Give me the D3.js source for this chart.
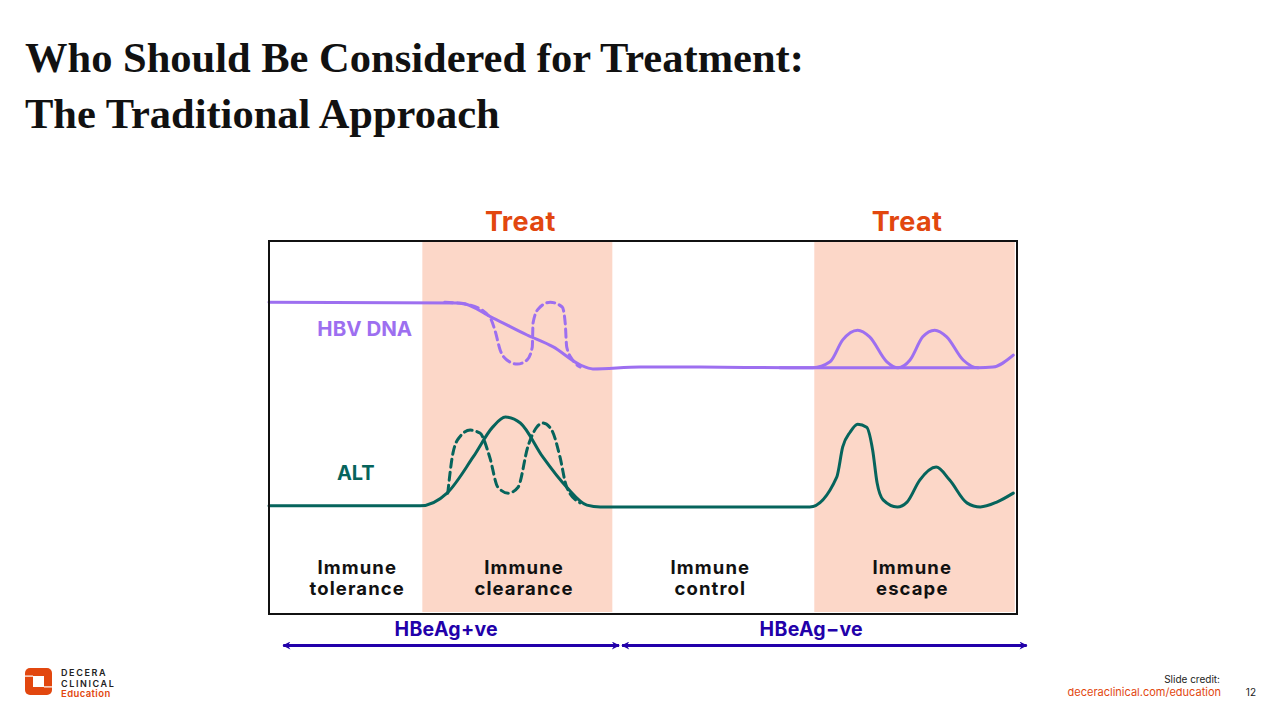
<!DOCTYPE html>
<html>
<head>
<meta charset="utf-8">
<script src="https://cdn.jsdelivr.net/npm/d3@7"></script>
<style>
  body { margin: 0; background: #fff; }
  svg { display: block; }
</style>
</head>
<body>
<div id="chart"></div>
<script>
// timeline runs 0..100 left to right, level runs 0..100 bottom to top
const phaseNames = [['Immune', 'tolerance'], ['Immune', 'clearance'], ['Immune', 'control'], ['Immune', 'escape']];
const phaseStart = [0, 20.5, 45.9, 72.9];
const phaseEnd = [20.5, 45.9, 72.9, 99.7];
const phaseShaded = [false, true, false, true];
const phaseLabelX = [11.8, 34.1, 59.0, 86.0];
const treatX = [33.6, 85.3];

const hbvX = [0, 25.5, 29.9, 34.5, 38.0, 41.6, 43.3, 49.6, 57.6, 69.7, 72.7, 75.0, 76.7, 78.7, 80.3, 82.6, 84.1, 85.7, 87.4, 89.0, 90.6, 92.8, 94.8, 96.8, 99.5];
const hbvY = [83.6, 83.4, 79.4, 74.8, 71.6, 66.8, 65.7, 66.2, 66.2, 66.0, 66.0, 67.6, 73.5, 76.1, 74.3, 67.6, 66.0, 68.1, 74.3, 76.1, 74.3, 68.1, 66.0, 66.2, 69.4];
const hbvBaseX = [68.3, 94.8];
const hbvBaseY = [66.0, 66.0];
const hbvDashX = [23.5, 26.9, 29.5, 30.2, 30.9, 31.8, 33.2, 34.5, 35.2, 35.3, 36.0, 37.6, 39.2, 39.6, 39.8, 40.6, 41.6];
const hbvDashY = [83.6, 82.8, 79.6, 76.1, 70.8, 68.1, 67.0, 68.1, 71.6, 78.0, 81.8, 83.6, 82.3, 78.0, 71.6, 68.1, 66.2];

const altX = [0, 20.2, 23.8, 27.3, 29.9, 31.6, 33.6, 36.6, 39.8, 42.5, 44.3, 57.6, 72.3, 75.9, 76.7, 77.7, 78.7, 79.9, 80.7, 81.3, 82.1, 84.0, 85.3, 87.0, 89.2, 91.0, 93.3, 95.1, 97.3, 99.5];
const altY = [29.0, 29.0, 32.4, 42.1, 50.1, 52.8, 51.2, 42.1, 34.0, 29.2, 28.7, 28.7, 28.7, 36.7, 44.8, 48.8, 50.9, 50.1, 44.0, 35.1, 30.6, 28.7, 30.0, 35.9, 39.4, 35.9, 29.8, 28.7, 30.0, 32.4];
const altDashX = [23.9, 24.6, 25.5, 26.9, 28.2, 29.5, 30.6, 32.0, 33.3, 34.6, 35.8, 36.6, 37.8, 38.9, 39.8, 41.6];
const altDashY = [32.4, 43.2, 47.5, 49.3, 48.5, 42.1, 34.0, 32.4, 34.0, 44.8, 50.1, 51.2, 49.3, 42.1, 34.0, 29.8];

const eagLabels = ['HBeAg+ve', 'HBeAg\u2212ve'];
const eagStart = [1.9, 47.2];
const eagEnd = [46.8, 101.3];
const eagLabelX = [23.7, 72.5];

const purple = '#9d6ff0';
const teal = '#06645c';
const shade = '#fcd7c8';
const orange = '#e2470f';
const navy = '#2200aa';
const sans = 'Inter, "Noto Sans", sans-serif';

const W = 1280, H = 720;
const frame = { left: 269, right: 1017, top: 241, bottom: 614 };

const svg = d3.select('#chart').append('svg')
  .attr('width', W)
  .attr('height', H);

const x = d3.scaleLinear().domain([0, 100]).range([frame.left, frame.right]);
const y = d3.scaleLinear().domain([0, 100]).range([frame.bottom, frame.top]);

// Title
['Who Should Be Considered for Treatment:', 'The Traditional Approach'].forEach((t, i) => {
  svg.append('text')
    .attr('x', 25)
    .attr('y', 72 + i * 56)
    .attr('font-family', '"Liberation Serif", "Times New Roman", serif')
    .attr('font-weight', 'bold')
    .attr('font-size', 42.5)
    .attr('fill', '#111')
    .text(t);
});

// Shaded phases
svg.selectAll('rect.phase')
  .data(phaseStart.map((s, i) => ({ s, e: phaseEnd[i], shaded: phaseShaded[i] })).filter(d => d.shaded))
  .join('rect')
  .attr('class', 'phase')
  .attr('x', d => x(d.s))
  .attr('y', frame.top + 1)
  .attr('width', d => x(d.e) - x(d.s))
  .attr('height', frame.bottom - frame.top - 3)
  .attr('fill', shade);

// Treat labels
svg.selectAll('text.treat')
  .data(treatX)
  .join('text')
  .attr('class', 'treat')
  .attr('x', d => x(d))
  .attr('y', 231)
  .attr('text-anchor', 'middle')
  .attr('font-family', sans)
  .attr('font-weight', 700)
  .attr('font-size', 27)
  .attr('letter-spacing', 0.4)
  .attr('fill', orange)
  .text('Treat');

const line = d3.line()
  .curve(d3.curveMonotoneX)
  .x(d => x(d[0]))
  .y(d => y(d[1]));

const zip = (a, b) => a.map((v, i) => [v, b[i]]);

const paths = [
  { pts: zip(hbvBaseX, hbvBaseY), color: purple, dash: null },
  { pts: zip(hbvX, hbvY), color: purple, dash: null },
  { pts: zip(hbvDashX, hbvDashY), color: purple, dash: '8,5' },
  { pts: zip(altX, altY), color: teal, dash: null },
  { pts: zip(altDashX, altDashY), color: teal, dash: '8,5' }
];

svg.selectAll('path.curve')
  .data(paths)
  .join('path')
  .attr('class', 'curve')
  .attr('d', d => line(d.pts))
  .attr('fill', 'none')
  .attr('stroke', d => d.color)
  .attr('stroke-width', 3)
  .attr('stroke-linecap', 'round')
  .attr('stroke-dasharray', d => d.dash);

// Series labels
svg.append('text')
  .attr('x', x(12.8))
  .attr('y', y(74.6))
  .attr('text-anchor', 'middle')
  .attr('font-family', sans)
  .attr('font-weight', 700)
  .attr('font-size', 20.5)
  .attr('fill', purple)
  .text('HBV DNA');

svg.append('text')
  .attr('x', x(11.6))
  .attr('y', y(36.0))
  .attr('text-anchor', 'middle')
  .attr('font-family', sans)
  .attr('font-weight', 700)
  .attr('font-size', 20)
  .attr('fill', teal)
  .text('ALT');

// Phase labels
phaseNames.forEach((pair, i) => {
  pair.forEach((t, j) => {
    svg.append('text')
      .attr('x', x(phaseLabelX[i]))
      .attr('y', 574 + j * 21)
      .attr('text-anchor', 'middle')
      .attr('font-family', sans)
      .attr('font-weight', 700)
      .attr('font-size', 18.5)
      .attr('letter-spacing', 1.1)
      .attr('fill', '#111')
      .text(t);
  });
});

// Frame
svg.append('rect')
  .attr('x', frame.left)
  .attr('y', frame.top)
  .attr('width', frame.right - frame.left)
  .attr('height', frame.bottom - frame.top)
  .attr('fill', 'none')
  .attr('stroke', '#111')
  .attr('stroke-width', 2);

// HBeAg arrows
const defs = svg.append('defs');
['start', 'end'].forEach(k => {
  defs.append('marker')
    .attr('id', 'arrow-' + k)
    .attr('viewBox', '0 0 10 10')
    .attr('refX', 9)
    .attr('refY', 5)
    .attr('markerUnits', 'userSpaceOnUse')
    .attr('markerWidth', 9)
    .attr('markerHeight', 8)
    .attr('orient', k === 'end' ? 'auto' : 'auto-start-reverse')
    .append('path')
    .attr('d', 'M0,0 L10,5 L0,10 L3,5 Z')
    .attr('fill', navy);
});

eagLabels.forEach((lab, i) => {
  svg.append('line')
    .attr('x1', x(eagStart[i]))
    .attr('x2', x(eagEnd[i]))
    .attr('y1', 645.5)
    .attr('y2', 645.5)
    .attr('stroke', navy)
    .attr('stroke-width', 2.8)
    .attr('marker-start', 'url(#arrow-start)')
    .attr('marker-end', 'url(#arrow-end)');

  svg.append('text')
    .attr('x', x(eagLabelX[i]))
    .attr('y', 636)
    .attr('text-anchor', 'middle')
    .attr('font-family', sans)
    .attr('font-weight', 700)
    .attr('font-size', 19.5)
    .attr('letter-spacing', 0.3)
    .attr('fill', navy)
    .text(lab);
});

// Logo mark
const logo = svg.append('g').attr('transform', 'translate(25,668)');
logo.append('rect').attr('x', 0).attr('y', 0).attr('width', 27).attr('height', 27).attr('rx', 5).attr('fill', orange);
logo.append('rect').attr('x', 8).attr('y', 8).attr('width', 11).attr('height', 11).attr('fill', '#fff');
logo.append('rect').attr('x', 0).attr('y', 7.5).attr('width', 8).attr('height', 1.2).attr('fill', '#fff');
logo.append('rect').attr('x', 19).attr('y', 18.3).attr('width', 8).attr('height', 1.2).attr('fill', '#fff');

// Logo words
const logoWords = [
  { t: 'DECERA', y: 676, size: 9, ls: 1.6, fill: '#222' },
  { t: 'CLINICAL', y: 686.5, size: 9, ls: 1.6, fill: '#222' },
  { t: 'Education', y: 696.5, size: 9.5, ls: 0.4, fill: orange }
];
logoWords.forEach(w => {
  svg.append('text')
    .attr('x', 61)
    .attr('y', w.y)
    .attr('font-family', sans)
    .attr('font-weight', 600)
    .attr('font-size', w.size)
    .attr('letter-spacing', w.ls)
    .attr('fill', w.fill)
    .text(w.t);
});

// Slide credit
svg.append('text')
  .attr('x', 1220)
  .attr('y', 683)
  .attr('text-anchor', 'end')
  .attr('font-family', sans)
  .attr('font-size', 10)
  .attr('fill', '#222')
  .text('Slide credit:');
svg.append('text')
  .attr('x', 1221)
  .attr('y', 696)
  .attr('text-anchor', 'end')
  .attr('font-family', sans)
  .attr('font-size', 11)
  .attr('fill', orange)
  .text('deceraclinical.com/education');
svg.append('text')
  .attr('x', 1256)
  .attr('y', 696)
  .attr('text-anchor', 'end')
  .attr('font-family', sans)
  .attr('font-size', 10)
  .attr('fill', '#222')
  .text('12');
</script>
</body>
</html>
